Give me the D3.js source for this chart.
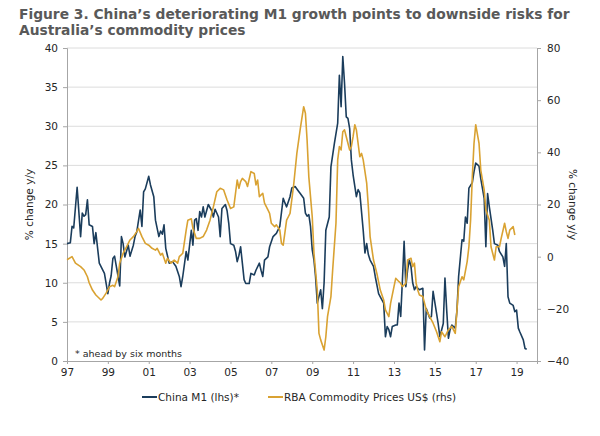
<!DOCTYPE html>
<html>
<head>
<meta charset="utf-8">
<script src="https://cdn.jsdelivr.net/npm/d3@7"></script>
<style>
	body{margin:0;background:#fff;}
	text{font-family:"DejaVu Sans",Verdana,sans-serif;}
</style>
</head>
<body>
<div class="chart"></div>
<script>
// China M1 (lhs, % y/y, ahead by six months)
var m1Dates=["1997-01","1997-03","1997-04","1997-05","1997-07","1997-09","1997-10","1997-11","1997-12","1998-01","1998-02","1998-04","1998-05","1998-06","1998-08","1998-11",
"1999-01","1999-02","1999-03","1999-04","1999-05","1999-08","1999-09","1999-10","1999-11","2000-01","2000-02","2000-04","2000-05","2000-06","2000-08","2000-09","2000-10","2000-11",
"2001-01","2001-02","2001-04","2001-05","2001-07","2001-08","2001-09","2001-10","2001-11","2002-01","2002-03","2002-05","2002-07","2002-08","2002-09","2002-11","2002-12",
"2003-02","2003-03","2003-04","2003-05","2003-06","2003-07","2003-08","2003-09","2003-10","2003-11","2003-12","2004-02","2004-03","2004-04","2004-06","2004-07","2004-08","2004-10","2004-11","2004-12",
"2005-01","2005-03","2005-04","2005-05","2005-06","2005-07","2005-08","2005-09","2005-10","2005-12","2006-01","2006-03","2006-04","2006-06","2006-07","2006-08","2006-09","2006-11","2006-12",
"2007-02","2007-04","2007-06","2007-08","2007-09","2007-10","2007-12","2008-01","2008-03","2008-05","2008-06","2008-08","2008-09","2008-10","2008-11","2008-12",
"2009-01","2009-02","2009-03","2009-04","2009-06","2009-07","2009-08","2009-09","2009-11","2009-12","2010-02","2010-04","2010-05","2010-06","2010-07","2010-08","2010-09","2010-10","2010-11","2010-12",
"2011-01","2011-03","2011-04","2011-05","2011-07","2011-08","2011-09","2011-10","2011-11","2012-01","2012-02","2012-04","2012-05","2012-07","2012-08","2012-09","2012-10","2012-11","2012-12",
"2013-02","2013-03","2013-04","2013-05","2013-06","2013-07","2013-08","2013-09","2013-10","2013-11","2013-12","2014-01","2014-02","2014-04","2014-06","2014-07","2014-08","2014-10","2014-11","2014-12",
"2015-02","2015-03","2015-04","2015-06","2015-07","2015-08","2015-09","2015-10","2015-11","2016-01","2016-02","2016-03","2016-05","2016-06","2016-07","2016-08","2016-09","2016-11","2016-12",
"2017-01","2017-03","2017-04","2017-06","2017-07","2017-08","2017-09","2017-11","2017-12","2018-02","2018-03","2018-05","2018-06","2018-07","2018-08","2018-09","2018-11","2018-12",
"2019-01","2019-02","2019-03","2019-05","2019-06","2019-07"];
var m1Values=[15.0,15.1,17.2,17.0,22.2,15.9,18.9,18.5,18.7,20.6,17.4,17.2,15.0,16.4,12.5,11.2,
8.6,10.0,10.9,13.1,13.4,9.6,15.9,15.0,13.3,14.8,13.4,14.8,15.9,16.5,19.3,17.2,21.6,22.0,
23.6,22.5,21.0,18.0,15.9,16.6,16.2,17.4,14.4,12.5,12.7,12.1,10.8,9.5,10.8,14.0,12.9,
16.7,14.8,18.0,18.2,16.7,19.1,18.4,19.7,18.4,19.2,20.0,19.2,18.4,19.4,18.4,15.9,19.5,20.0,19.2,17.6,
15.0,14.8,14.0,12.7,13.5,14.6,12.5,10.4,9.9,9.9,11.2,11.0,11.6,12.5,11.6,10.8,12.9,13.3,14.6,
15.9,16.3,17.2,20.8,20.2,19.7,21.0,22.1,22.3,21.7,21.4,20.8,18.9,18.5,18.7,17.2,
14.2,12.9,10.8,7.4,9.1,6.7,10.0,16.7,18.4,24.8,27.8,30.4,36.5,32.5,38.9,35.5,31.2,31.0,29.7,25.7,
23.8,21.0,21.9,21.5,16.7,13.8,15.0,13.6,12.9,12.1,10.8,8.6,8.2,7.4,3.1,4.4,4.0,3.1,4.4,
4.6,4.6,7.4,5.7,10.4,15.3,9.5,11.6,12.9,12.1,10.0,9.1,9.5,9.1,9.3,1.4,6.7,5.5,5.7,8.9,
6.1,4.8,3.1,4.8,10.6,6.5,2.9,4.0,4.6,4.2,6.5,10.8,15.5,15.3,18.4,17.6,22.1,22.8,24.2,
25.3,24.9,23.3,20.8,14.6,21.4,19.7,16.7,15.0,14.8,14.0,13.3,12.1,15.0,8.2,7.4,7.1,6.3,
6.5,4.2,3.7,2.7,1.6,1.5];

// RBA Commodity Prices US$ (rhs, % y/y)
var rbaDates=["1997-01","1997-04","1997-06","1997-09","1997-11","1998-01","1998-02","1998-04","1998-06","1998-09","1998-10","1998-12",
"1999-02","1999-04","1999-05","1999-07","1999-08","1999-10","1999-12","2000-02","2000-04","2000-06","2000-07","2000-09","2000-11",
"2001-01","2001-03","2001-05","2001-06","2001-08","2001-09","2001-11","2001-12","2002-02","2002-04","2002-06","2002-07","2002-09","2002-11","2002-12",
"2003-02","2003-03","2003-05","2003-07","2003-09","2003-11","2004-01","2004-03","2004-05","2004-07","2004-09","2004-11",
"2005-01","2005-03","2005-05","2005-06","2005-07","2005-08","2005-10","2005-11","2006-01","2006-03","2006-04","2006-05","2006-06","2006-08","2006-09","2006-11","2006-12",
"2007-01","2007-03","2007-04","2007-06","2007-07","2007-08","2007-10","2007-11","2007-12","2008-02","2008-04","2008-06","2008-08","2008-09","2008-10","2008-11",
"2009-01","2009-02","2009-04","2009-05","2009-06","2009-08","2009-09","2009-10","2009-12","2010-01","2010-03","2010-04","2010-05","2010-06","2010-07","2010-08","2010-09","2010-11","2010-12",
"2011-01","2011-02","2011-03","2011-05","2011-06","2011-07","2011-09","2011-10","2011-11","2012-01","2012-03","2012-05","2012-07","2012-08","2012-10","2012-11",
"2013-01","2013-02","2013-04","2013-05","2013-06","2013-08","2013-09","2013-11","2013-12","2014-01","2014-02","2014-03","2014-04","2014-06","2014-08","2014-10","2014-12",
"2015-02","2015-04","2015-05","2015-07","2015-09","2015-11","2016-01","2016-02","2016-03","2016-05","2016-06","2016-08","2016-09","2016-10","2016-11","2016-12",
"2017-01","2017-03","2017-04","2017-06","2017-07","2017-09","2017-10","2017-12","2018-01","2018-03","2018-04","2018-06","2018-07","2018-08","2018-09","2018-11","2018-12"];
var rbaValues=[-1.2,0,-2.5,-3.8,-5.1,-7.7,-10,-12.8,-14.7,-16.6,-16.0,-14,
-11.5,-11,-11.5,-7.7,-2.5,1.3,3.8,6.4,7.7,9.6,10.9,7.7,5.1,
4.4,3.2,2.5,3.2,0.6,1.3,-2.5,-0.6,-2.5,-1.3,-2.5,0,1.3,10.2,14.0,
14.5,10.9,7.0,7.0,7.7,10.2,14,19.1,24.9,26.2,25.6,21.7,
18.5,19.1,29.4,26.2,28.8,30.0,28.8,26.9,32.6,31.9,27.5,29.4,23.0,24.3,20.5,17.9,16.6,
12.8,11.5,12.2,10.2,5.1,4.4,14.0,15.3,16.6,26.9,39.6,49,57.5,55,44.7,30.6,
15.3,1.3,-12.8,-29.4,-31.9,-35.8,-30.7,-23,-15.3,-5.1,12.8,37.1,42.2,40.9,47.9,48.6,46.0,40.9,42.2,
46.0,50.6,48.6,38.3,39.6,37.1,28.2,19.1,7.7,-1.3,-6.4,-12.8,-16.6,-20.4,-23.0,-17.9,
-11.5,-8.3,-9.6,-10.2,-11.5,-10.2,-1.3,-0.6,-3.8,-2.5,-10.2,-12.8,-14.7,-15.3,-20.4,-23,-25.5,
-28.8,-32.6,-28.8,-30.7,-28.0,-26.7,-29.4,-20.4,-11.5,-7.7,-8.9,-1.9,3.8,14,30.6,43.4,
50.6,43.4,33.2,25.6,17.9,14,3.8,-1.3,3.8,3.8,7.0,12.8,9.6,7.0,10.2,11.5,8.3];

// axis ticks
var leftTicks=[0,5,10,15,20,25,30,35,40];
var rightTicks=[-40,-20,0,20,40,60,80];
var yearTicks=[1997,1999,2001,2003,2005,2007,2009,2011,2013,2015,2017,2019];

var navy='#1b3d5c';
var gold='#d9a232';

var width=600,height=436;
var pLeft=67,pRight=537,pTop=48,pBottom=361;

var svg=d3.select('div.chart')
		.append('svg')
		.attr('width',width)
		.attr('height',height);

var parse=d3.timeParse('%Y-%m');
var m1=m1Dates.map(function(d,i){return {date:parse(d),value:m1Values[i]};});
var rba=rbaDates.map(function(d,i){return {date:parse(d),value:rbaValues[i]};});

var xScale=d3.scaleTime()
			.domain([new Date(1997,0,1),new Date(2020,0,1)])
			.range([pLeft,pRight]);
var yLeft=d3.scaleLinear()
			.domain([0,40])
			.range([pBottom,pTop]);
var yRight=d3.scaleLinear()
			.domain([-40,80])
			.range([pBottom,pTop]);

// title
var title=svg.append('text')
		.attr('font-size','13.8px')
		.attr('font-weight','bold')
		.attr('fill','#595959');
title.append('tspan').attr('x',19).attr('y',19)
	.text('Figure 3. China\u2019s deteriorating M1 growth points to downside risks for');
title.append('tspan').attr('x',19).attr('y',34.5)
	.text('Australia\u2019s commodity prices');

// gridlines
svg.append('g')
	.selectAll('line')
	.data(leftTicks.slice(1))
	.enter()
	.append('line')
	.attr('x1',pLeft)
	.attr('x2',pRight)
	.attr('y1',function(d){return yLeft(d);})
	.attr('y2',function(d){return yLeft(d);})
	.attr('stroke','#dcdcdc')
	.attr('stroke-width',1);

// left axis
var gl=svg.append('g')
	.attr('transform','translate('+pLeft+',0)')
	.call(d3.axisLeft(yLeft).tickValues(leftTicks).tickSize(4).tickPadding(5));
// right axis
var gr=svg.append('g')
	.attr('transform','translate('+pRight+',0)')
	.call(d3.axisRight(yRight).tickValues(rightTicks).tickSize(4).tickPadding(6));
// bottom axis
var gb=svg.append('g')
	.attr('transform','translate(0,'+pBottom+')')
	.call(d3.axisBottom(xScale)
		.tickValues(yearTicks.map(function(y){return new Date(y,0,1);}))
		.tickFormat(d3.timeFormat('%y'))
		.tickSize(3)
		.tickPadding(5));

[gl,gr,gb].forEach(function(g){
	g.selectAll('path,line').attr('stroke','#a6a6a6');
	g.selectAll('text')
		.attr('font-size','10.5px')
		.attr('fill','#262626')
		.style('font-family','"DejaVu Sans",Verdana,sans-serif');
});

// axis titles
svg.append('text')
	.attr('transform','translate(33,'+((pTop+pBottom)/2)+') rotate(-90)')
	.attr('text-anchor','middle')
	.attr('font-size','10.5px')
	.attr('fill','#262626')
	.text('% change y/y');
svg.append('text')
	.attr('transform','translate(569,'+((pTop+pBottom)/2)+') rotate(90)')
	.attr('text-anchor','middle')
	.attr('font-size','10.5px')
	.attr('fill','#262626')
	.text('% change y/y');

// lines
var lineLeft=d3.line()
	.x(function(d){return xScale(d.date);})
	.y(function(d){return yLeft(d.value);});
var lineRight=d3.line()
	.x(function(d){return xScale(d.date);})
	.y(function(d){return yRight(d.value);});

svg.append('path')
	.datum(m1)
	.attr('fill','none')
	.attr('stroke',navy)
	.attr('stroke-width',1.6)
	.attr('stroke-linejoin','round')
	.attr('d',lineLeft);
svg.append('path')
	.datum(rba)
	.attr('fill','none')
	.attr('stroke',gold)
	.attr('stroke-width',1.6)
	.attr('stroke-linejoin','round')
	.attr('d',lineRight);

// note
svg.append('text')
	.attr('x',75)
	.attr('y',357)
	.attr('font-size','9.5px')
	.attr('fill','#262626')
	.text('* ahead by six months');

// legend
var legend=[{name:'China M1 (lhs)*',color:navy,x:142},{name:'RBA Commodity Prices US$ (rhs)',color:gold,x:268}];
var lg=svg.append('g').selectAll('g')
	.data(legend)
	.enter()
	.append('g')
	.attr('transform',function(d){return 'translate('+d.x+',397)';});
lg.append('line')
	.attr('x1',0).attr('x2',15)
	.attr('stroke',function(d){return d.color;})
	.attr('stroke-width',2);
lg.append('text')
	.attr('x',16)
	.attr('y',3.5)
	.attr('font-size','10.5px')
	.attr('fill','#262626')
	.text(function(d){return d.name;});
</script>
</body>
</html>
